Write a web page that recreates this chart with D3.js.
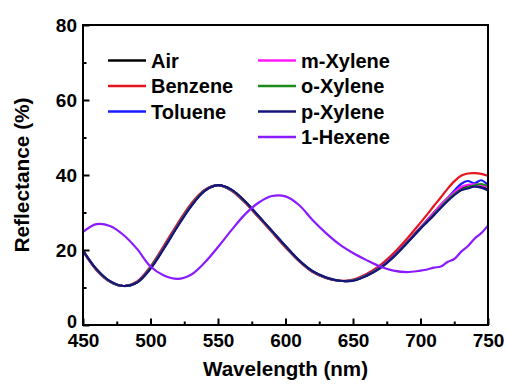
<!DOCTYPE html>
<html>
<head>
<meta charset="utf-8">
<script src="https://cdn.jsdelivr.net/npm/d3@7"></script>
<style>
  body { margin: 0; background: #fff; }
  text { font-family: Arial, "Liberation Sans", sans-serif; font-weight: bold; }
</style>
</head>
<body>
<svg width="507" height="388"></svg>
<script>
// wavelengths (nm)
var wavelength = [450,460,470,480,490,500,510,520,530,540,550,560,570,580,590,600,610,620,630,640,650,660,670,680,690,700,
                  705,710,715,720,725,730,735,740,745,750];

// reflectance (%) for each solvent
var air      = [19.8,14.8,11.6,10.4,11.4,15.2,20.6,26.4,31.8,35.8,37.3,36.0,32.9,29.0,25.0,21.0,17.2,14.3,12.6,11.8,11.9,13.2,15.3,18.3,22.0,26.0,
                28.0,30.0,32.0,33.8,35.2,36.3,37.0,37.2,37.0,36.0];
var benzene  = [19.6,14.6,11.5,10.4,11.6,15.6,21.2,27.0,32.3,36.0,37.3,35.8,32.6,28.7,24.7,20.7,17.0,14.1,12.5,11.8,12.1,13.6,15.9,19.1,23.0,27.3,
                29.5,31.8,34.0,36.3,38.3,39.8,40.4,40.5,40.3,39.8];
var toluene  = [19.8,14.8,11.6,10.4,11.4,15.3,20.7,26.5,31.8,35.8,37.3,36.0,32.9,29.0,25.0,21.0,17.2,14.3,12.6,11.8,11.9,13.3,15.4,18.4,22.0,25.8,
                27.8,29.8,31.8,33.8,35.8,37.6,38.4,37.8,38.6,37.3];
var mXylene  = [19.8,14.8,11.6,10.4,11.4,15.2,20.6,26.4,31.8,35.8,37.3,36.0,32.9,29.0,25.0,21.0,17.2,14.3,12.6,11.8,11.9,13.2,15.3,18.3,22.0,26.0,
                28.0,30.0,32.0,33.8,35.4,36.8,37.4,37.5,37.3,36.8];
var oXylene  = [19.8,14.8,11.6,10.4,11.4,15.2,20.6,26.4,31.8,35.8,37.3,36.0,32.9,29.0,25.0,21.0,17.2,14.3,12.6,11.8,11.9,13.2,15.2,18.2,21.9,25.8,
                27.6,29.5,31.4,33.3,34.9,36.0,36.7,37.2,37.6,37.0];
var pXylene  = [19.9,14.9,11.7,10.4,11.3,15.0,20.4,26.2,31.6,35.7,37.3,36.1,33.0,29.1,25.1,21.1,17.3,14.4,12.7,11.8,11.8,13.1,15.1,18.1,21.8,25.7,
                27.5,29.3,31.2,33.0,34.6,35.9,36.4,36.9,36.6,35.9];
var hexene   = [24.8,26.9,26.4,24.0,20.3,15.6,13.2,12.3,13.4,16.6,20.8,25.3,29.5,32.6,34.4,34.3,32.0,28.0,24.5,21.5,19.2,17.3,15.6,14.5,14.1,14.5,
                14.8,15.3,15.6,16.8,17.6,19.5,21.0,23.0,24.5,26.5];

var names  = ["Air","Benzene","Toluene","m-Xylene","o-Xylene","p-Xylene","1-Hexene"];
var colors = ["#000000","#e8141c","#1a1aff","#ff1aff","#1a8c1a","#14147a","#8a1aff"];
var series = [air, benzene, toluene, mXylene, oXylene, pXylene, hexene];

var xTicks = [450,500,550,600,650,700,750];
var yTicks = [0,20,40,60,80];

var svg = d3.select("svg"),
    margin = {top: 25, right: 19, bottom: 63, left: 83},
    width = +svg.attr("width") - margin.left - margin.right,
    height = +svg.attr("height") - margin.top - margin.bottom;

var g = svg.append("g").attr("transform", "translate(" + margin.left + "," + margin.top + ")");

var x = d3.scaleLinear().domain([450, 750]).range([0, width]);
var y = d3.scaleLinear().domain([0, 80]).range([height, 0]);

var line = d3.line()
    .x(function(d) { return x(d[0]); })
    .y(function(d) { return y(d[1]); })
    .curve(d3.curveCatmullRom.alpha(0.5));

// curves
series.forEach(function(s, i) {
  g.append("path")
      .datum(wavelength.map(function(w, j) { return [w, s[j]]; }))
      .attr("fill", "none")
      .attr("stroke", colors[i])
      .attr("stroke-width", 2.2)
      .attr("stroke-linejoin", "round")
      .attr("d", line);
});

// minor ticks
g.append("g")
    .attr("transform", "translate(0," + height + ")")
    .call(d3.axisBottom(x).tickValues([475,525,575,625,675,725]).tickSize(-3.5).tickFormat(""))
    .call(function(a) { a.select(".domain").remove(); a.selectAll("line").attr("stroke-width", 2); });
g.append("g")
    .call(d3.axisLeft(y).tickValues([10,30,50,70]).tickSize(-3.5).tickFormat(""))
    .call(function(a) { a.select(".domain").remove(); a.selectAll("line").attr("stroke-width", 2); });

// major ticks + labels
var xAxis = g.append("g")
    .attr("transform", "translate(0," + height + ")")
    .call(d3.axisBottom(x).tickValues(xTicks).tickSize(-6.5).tickPadding(9).tickFormat(d3.format("d")));
xAxis.select(".domain").remove();
xAxis.selectAll("line").attr("stroke-width", 2);
xAxis.selectAll("text").attr("font-size", 19).attr("fill", "#000").attr("dy", "0.71em")
    .attr("y", 9);

var yAxis = g.append("g")
    .call(d3.axisLeft(y).tickValues(yTicks).tickSize(-6.5).tickPadding(6).tickFormat(d3.format("d")));
yAxis.select(".domain").remove();
yAxis.selectAll("line").attr("stroke-width", 2);
yAxis.selectAll("text").attr("font-size", 19).attr("fill", "#000").attr("x", -6).attr("dy", "0.35em");
yAxis.selectAll(".tick").filter(function(d) { return d === 0; }).select("text")
    .attr("font-size", 18).attr("dy", "0.12em");

// frame
g.append("rect")
    .attr("width", width)
    .attr("height", height)
    .attr("fill", "none")
    .attr("stroke", "#000")
    .attr("stroke-width", 2);

// axis titles
svg.append("text")
    .attr("x", margin.left + width / 2)
    .attr("y", 376)
    .attr("text-anchor", "middle")
    .attr("font-size", 20)
    .attr("textLength", 165)
    .attr("lengthAdjust", "spacingAndGlyphs")
    .text("Wavelength (nm)");

svg.append("text")
    .attr("transform", "translate(29," + (margin.top + height / 2) + ") rotate(-90)")
    .attr("text-anchor", "middle")
    .attr("font-size", 20)
    .attr("textLength", 155)
    .attr("lengthAdjust", "spacingAndGlyphs")
    .text("Reflectance (%)");

// legend
var legendPos = [[108,60.5],[108,86],[108,111.5],[258,60.5],[258,86],[258,111.5],[258,137]];
names.forEach(function(n, i) {
  var p = legendPos[i];
  svg.append("line")
      .attr("x1", p[0]).attr("x2", p[0] + 38)
      .attr("y1", p[1]).attr("y2", p[1])
      .attr("stroke", colors[i])
      .attr("stroke-width", 2.5);
  svg.append("text")
      .attr("x", p[0] + 43)
      .attr("y", p[1] + 7)
      .attr("font-size", 20)
      .text(n);
});
</script>
</body>
</html>
